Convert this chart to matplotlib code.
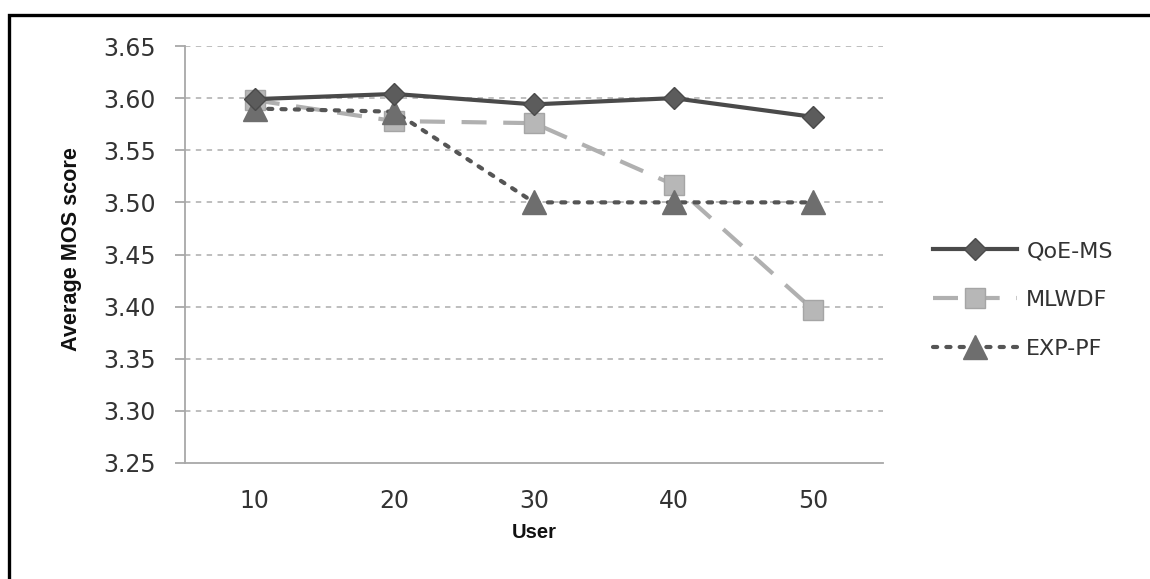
import matplotlib
matplotlib.use("Agg")
import matplotlib.pyplot as plt
from matplotlib.patches import Rectangle

# Data
users = ["10", "20", "30", "40", "50"]
qoe_ms = [3.599, 3.604, 3.594, 3.600, 3.582]
mlwdf = [3.598, 3.578, 3.576, 3.517, 3.397]
exp_pf = [3.590, 3.587, 3.500, 3.500, 3.500]
yticks = [3.25, 3.30, 3.35, 3.40, 3.45, 3.50, 3.55, 3.60, 3.65]

W, H = 1150, 579
fig = plt.figure(figsize=(W / 100, H / 100), dpi=100)
fig.patch.set_facecolor("white")

# Outer frame around the figure panel
fig.patches.append(Rectangle((9 / W, -0.2), 1.5, 1 - 15 / H + 0.2,
                             transform=fig.transFigure, fill=False,
                             edgecolor="black", linewidth=2.4, zorder=0))

ax = fig.add_axes([185 / W, 1 - 463 / H, (883 - 185) / W, (463 - 46) / H])
x = list(range(len(users)))

grid_color = "#b9b9b9"
for yv in yticks[1:]:
    ax.axhline(yv, color=grid_color, linestyle=(0, (3, 3)), linewidth=1.3, zorder=1)

ax.plot(x, qoe_ms, color="#4a4a4a", linewidth=3.0, marker="D", markersize=11,
        markerfacecolor="#5c5c5c", markeredgecolor="#4a4a4a", zorder=5, label="QoE-MS")
ax.plot(x, mlwdf, color="#b0b0b0", linewidth=3.0, linestyle=(0, (6, 4)), marker="s",
        markersize=15, markerfacecolor="#b7b7b7", markeredgecolor="#a5a5a5",
        dash_capstyle="butt", zorder=3, label="MLWDF")
ax.plot(x, exp_pf, color="#555555", linewidth=3.0, linestyle=(0, (1, 2.2)), marker="^",
        markersize=17, markerfacecolor="#6e6e6e", markeredgecolor="#6e6e6e",
        dash_capstyle="round", zorder=4, label="EXP-PF")

ax.set_xlim(-0.5, len(users) - 0.5)
ax.set_ylim(3.25, 3.65)
ax.set_xticks(x)
ax.set_xticklabels(users)
ax.set_yticks(yticks)
ax.set_yticklabels([f"{v:.2f}" for v in yticks])

for side in ("top", "right"):
    ax.spines[side].set_visible(False)
for side in ("left", "bottom"):
    ax.spines[side].set_color("#a8a8a8")
    ax.spines[side].set_linewidth(1.3)

ax.tick_params(axis="y", direction="out", length=7, width=1.3, color="#a8a8a8",
               labelsize=17, labelcolor="#333333", pad=14)
ax.tick_params(axis="x", length=0, labelsize=17, labelcolor="#333333", pad=19)
for lbl in ax.get_xticklabels() + ax.get_yticklabels():
    lbl.set_family("DejaVu Sans")

ax.set_ylabel("Average MOS score", family="Liberation Sans",
              fontweight="bold", fontsize=15.6, color="#111111")
ax.yaxis.set_label_coords(-0.148, 0.513)
ax.set_xlabel("User", family="Liberation Sans", fontweight="bold", fontsize=14.5,
              color="#111111", labelpad=7)

leg = fig.legend(loc="center left", bbox_to_anchor=(933 / W, 1 - 300 / H),
                 frameon=False, fontsize=16, handlelength=3.8, handletextpad=0.4,
                 labelspacing=1.3, borderpad=0, borderaxespad=0)
for t in leg.get_texts():
    t.set_color("#333333")
    t.set_family("DejaVu Sans")

fig.savefig("out.png", dpi=100, facecolor="white")
